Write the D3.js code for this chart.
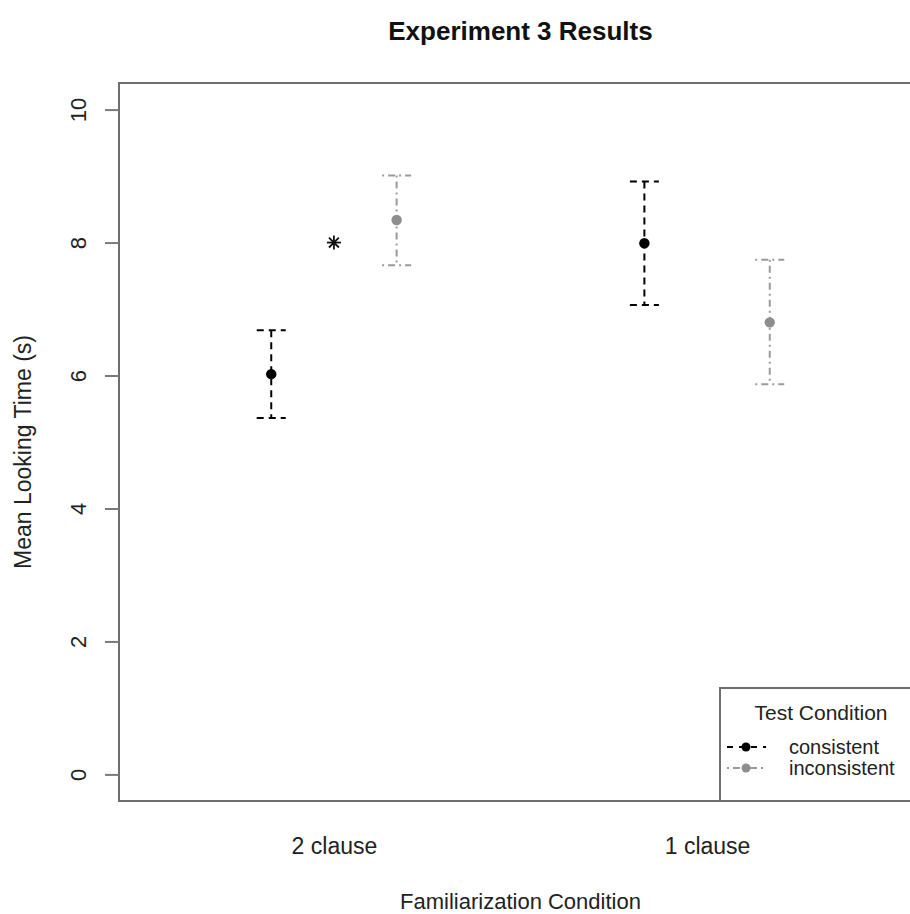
<!DOCTYPE html>
<html>
<head>
<meta charset="utf-8">
<script src="https://cdn.jsdelivr.net/npm/d3@7/dist/d3.min.js"></script>
<style>
  html, body { margin: 0; padding: 0; background: #fff; }
  svg { display: block; font-family: "Liberation Sans", Arial, Helvetica, sans-serif; }
</style>
</head>
<body>
<div id="chart"></div>
<script>
// Familiarization groups on the x axis
const categories = ["2 clause", "1 clause"];
// Test conditions (legend entries)
const seriesNames = ["consistent", "inconsistent"];

// Mean looking time (s) with error bar limits, per familiarization group
const consistentMean  = [6.02, 7.99];
const consistentLower = [5.36, 7.06];
const consistentUpper = [6.68, 8.92];

const inconsistentMean  = [8.34, 6.80];
const inconsistentLower = [7.66, 5.87];
const inconsistentUpper = [9.01, 7.74];

// Significance marker drawn between the two points of a group
const sigGroup = "2 clause";
const sigValue = 8;

const yTicks = [0, 2, 4, 6, 8, 10];

const W = 910, H = 914;
const plot = { left: 119, right: 922, top: 83, bottom: 801 };

const svg = d3.select("#chart").append("svg")
  .attr("width", W).attr("height", H);

const x = d3.scalePoint()
  .domain(categories)
  .range([plot.left, plot.right])
  .padding(0.576);

const dodge = d3.scalePoint()
  .domain(seriesNames)
  .range([-x.step() * 0.168, x.step() * 0.168]);

const y = d3.scaleLinear()
  .domain([-0.4, 10.4])
  .range([plot.bottom, plot.top]);

const styles = {
  consistent:   { color: "#000000", dash: "7,5", pointColor: "#000" },
  inconsistent: { color: "#9a9a9a", dash: "2,4,7,4", pointColor: "#8e8e8e" }
};

const series = [
  { name: "consistent", mean: consistentMean, lo: consistentLower, hi: consistentUpper },
  { name: "inconsistent", mean: inconsistentMean, lo: inconsistentLower, hi: inconsistentUpper }
];

// Plot frame
svg.append("rect")
  .attr("x", plot.left).attr("y", plot.top)
  .attr("width", plot.right - plot.left).attr("height", plot.bottom - plot.top)
  .attr("fill", "none").attr("stroke", "#6e6e6e").attr("stroke-width", 2);

// Y axis with rotated tick labels
const yAxis = d3.axisLeft(y).tickValues(yTicks).tickSize(14).tickSizeOuter(0);
const gy = svg.append("g").attr("transform", `translate(${plot.left},0)`).call(yAxis);
gy.select(".domain").remove();
gy.selectAll(".tick line").attr("stroke", "#7a7a7a").attr("stroke-width", 2);
gy.selectAll(".tick text")
  .attr("x", null).attr("y", null)
  .attr("transform", "translate(-41,0) rotate(-90)")
  .attr("dy", "0.35em")
  .style("text-anchor", "middle")
  .style("font-size", "22px").attr("fill", "#222");

// X category labels
const xAxis = d3.axisBottom(x).tickSize(0).tickPadding(37);
const gx = svg.append("g").attr("transform", `translate(0,${plot.bottom})`).call(xAxis);
gx.select(".domain").remove();
gx.selectAll(".tick text").style("font-size", "23px").attr("fill", "#222");

// Error bars, caps and points
series.forEach(s => {
  const st = styles[s.name];
  const g = svg.append("g");
  categories.forEach((c, i) => {
    const cx = x(c) + dodge(s.name);
    const capW = 14.5;
    g.append("line")
      .attr("x1", cx).attr("x2", cx)
      .attr("y1", y(s.hi[i])).attr("y2", y(s.lo[i]))
      .attr("stroke", st.color).attr("stroke-width", 2)
      .attr("stroke-dasharray", st.dash);
    [s.hi[i], s.lo[i]].forEach(v => {
      g.append("line")
        .attr("x1", cx - capW).attr("x2", cx + capW)
        .attr("y1", y(v)).attr("y2", y(v))
        .attr("stroke", st.color).attr("stroke-width", 2)
        .attr("stroke-dasharray", st.dash);
    });
    g.append("circle")
      .attr("cx", cx).attr("cy", y(s.mean[i])).attr("r", 5.2)
      .attr("fill", st.pointColor);
  });
});

// Asterisk (significance) marker
const sx = x(sigGroup), sy = y(sigValue), sr = 7;
const star = svg.append("g").attr("transform", `translate(${sx},${sy})`)
  .attr("stroke", "#111").attr("stroke-width", 1.8);
[0, 45, 90, 135].forEach(a => {
  const r = a * Math.PI / 180;
  star.append("line")
    .attr("x1", -sr * Math.cos(r)).attr("y1", -sr * Math.sin(r))
    .attr("x2", sr * Math.cos(r)).attr("y2", sr * Math.sin(r));
});

// Titles
svg.append("text")
  .attr("x", (plot.left + plot.right) / 2).attr("y", 40)
  .attr("text-anchor", "middle")
  .style("font-size", "26px").style("font-weight", "bold").attr("fill", "#111")
  .text("Experiment 3 Results");

svg.append("text")
  .attr("x", (plot.left + plot.right) / 2).attr("y", 909)
  .attr("text-anchor", "middle")
  .style("font-size", "22px").attr("fill", "#222")
  .text("Familiarization Condition");

svg.append("text")
  .attr("transform", `translate(31,${(plot.top + plot.bottom) / 2 + 10}) rotate(-90)`)
  .attr("text-anchor", "middle")
  .style("font-size", "23px").attr("fill", "#222")
  .text("Mean Looking Time (s)");

// Legend
const legW = 202, legH = 113;
const lg = svg.append("g").attr("transform", `translate(${plot.right - legW},${plot.bottom - legH})`);
lg.append("rect")
  .attr("width", legW).attr("height", legH)
  .attr("fill", "#fff").attr("stroke", "#6e6e6e").attr("stroke-width", 2);
lg.append("text")
  .attr("x", 101).attr("y", 32)
  .attr("text-anchor", "middle")
  .style("font-size", "21px").attr("fill", "#222")
  .text("Test Condition");
seriesNames.forEach((name, i) => {
  const st = styles[name];
  const ry = 59 + i * 21;
  lg.append("line")
    .attr("x1", 7).attr("x2", 46).attr("y1", ry).attr("y2", ry)
    .attr("stroke", st.color).attr("stroke-width", 2)
    .attr("stroke-dasharray", name === "consistent" ? "6,6" : "2,4,7,4");
  lg.append("circle").attr("cx", 26).attr("cy", ry).attr("r", 4.5).attr("fill", st.pointColor);
  lg.append("text")
    .attr("x", 69).attr("y", ry).attr("dy", "0.35em")
    .style("font-size", "20px").attr("fill", "#222")
    .text(name);
});
</script>
</body>
</html>
